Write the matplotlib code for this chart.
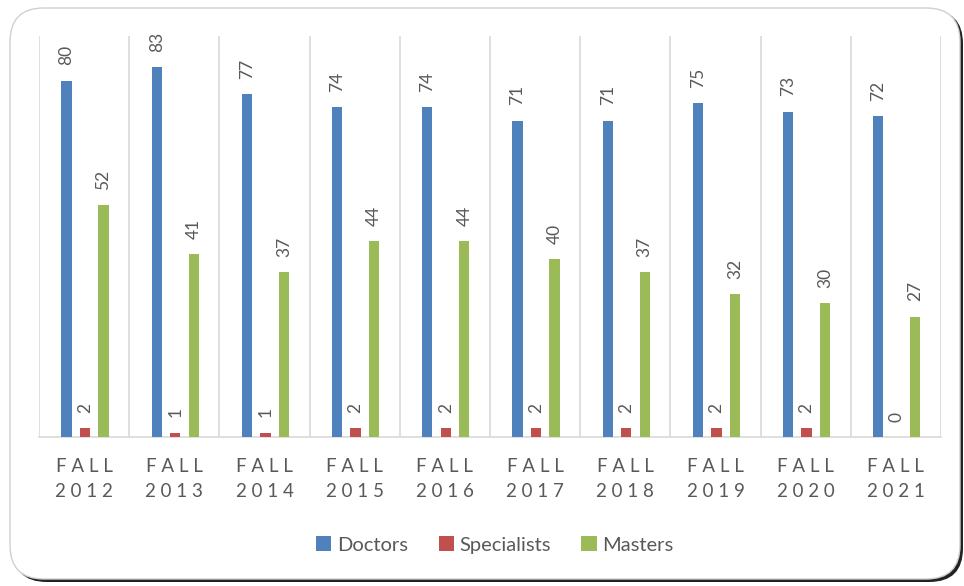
import matplotlib
matplotlib.use("Agg")
import matplotlib.pyplot as plt
import numpy as np
from matplotlib.patches import FancyBboxPatch, Patch

categories = ["FALL\n2012", "FALL\n2013", "FALL\n2014", "FALL\n2015", "FALL\n2016",
              "FALL\n2017", "FALL\n2018", "FALL\n2019", "FALL\n2020", "FALL\n2021"]
doctors = [80, 83, 77, 74, 74, 71, 71, 75, 73, 72]
specialists = [2, 1, 1, 2, 2, 2, 2, 2, 2, 0]
masters = [52, 41, 37, 44, 44, 40, 37, 32, 30, 27]
series_names = ["Doctors", "Specialists", "Masters"]
colors = ["#4f81bd", "#c0504d", "#9bbb59"]

plt.rcParams['font.family'] = ['Lato', 'DejaVu Sans']
W, H = 964, 586
fig = plt.figure(figsize=(W / 100, H / 100), dpi=100)
fig.patch.set_facecolor("white")

# border with shadow
def fx(px): return px / W
def fy(py): return 1 - py / H
shadow = FancyBboxPatch((fx(13), fy(582)), fx(950), (582 - 10) / H,
                        boxstyle="round,pad=0,rounding_size=0.035",
                        transform=fig.transFigure, facecolor="#222222",
                        edgecolor="none", mutation_aspect=W / H, zorder=0)
box = FancyBboxPatch((fx(10), fy(579)), fx(950), (579 - 8) / H,
                     boxstyle="round,pad=0,rounding_size=0.035",
                     transform=fig.transFigure, facecolor="white",
                     edgecolor="#d0d0d0", linewidth=1.0, mutation_aspect=W / H, zorder=1)
fig.patches.extend([shadow, box])

ax = fig.add_axes([39 / W, 1 - 437 / H, (941 - 39) / W, (437 - 36) / H])
ax.set_facecolor("none")
ax.set_zorder(2)

n = len(categories)
x = np.arange(n)
offs = [-0.195, 0.01, 0.215]
bw = 0.115
for vals, off, c in zip([doctors, specialists, masters], offs, colors):
    ax.bar(x + off, vals, width=bw, color=c, zorder=3)
    for xi, v in zip(x + off, vals):
        ax.annotate(str(v), (xi, v), xytext=(0, 11), textcoords="offset points",
                    rotation=90, ha="center", va="bottom", fontsize=12.5,
                    color="#595959")

ax.set_xlim(-0.5, n - 0.5)
ax.set_ylim(0, 90)
ax.set_yticks([])
for s in ["top", "right", "left"]:
    ax.spines[s].set_visible(False)
ax.spines["bottom"].set_color("#d9d9d9")
ax.spines["bottom"].set_linewidth(1.2)
for b in np.arange(-0.5, n, 1.0):
    ax.axvline(b, color="#d9d9d9", linewidth=1.2, zorder=1)

ax.set_xticks(x)
spaced = ["\n".join(" ".join(part) for part in c.split("\n")) for c in categories]
ax.set_xticklabels(spaced, fontsize=13.5, color="#595959", linespacing=1.55)
ax.tick_params(axis="x", length=0, pad=15)

handles = [Patch(facecolor=c, edgecolor="none") for c in colors]
fig.legend(handles, series_names, loc="center", bbox_to_anchor=(495 / W, 1 - 545 / H),
           ncol=3, frameon=False, fontsize=14.5, labelcolor="#595959",
           handlelength=0.75, handleheight=0.75, handletextpad=0.3, columnspacing=1.5)

fig.savefig("out.png", dpi=100)
